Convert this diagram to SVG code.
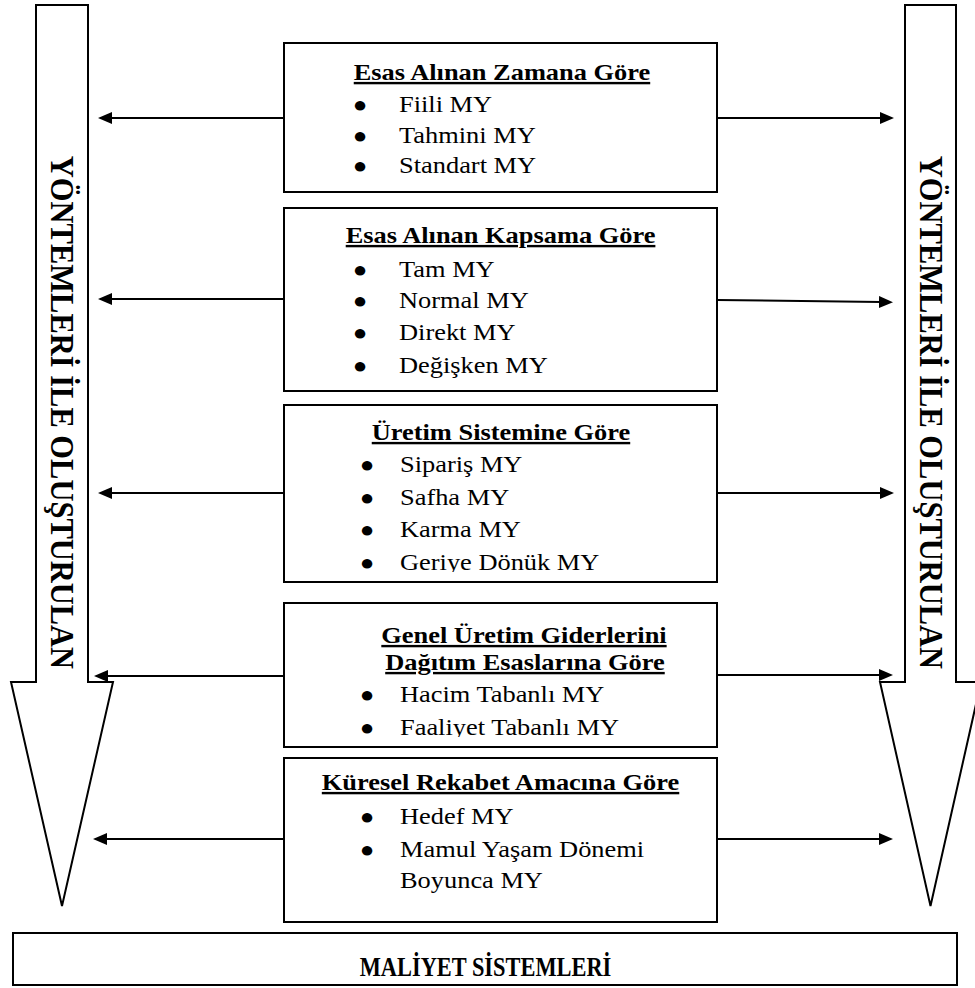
<svg xmlns="http://www.w3.org/2000/svg" width="975" height="988" viewBox="0 0 975 988">
  <style>
    .frame { fill: #ffffff; stroke: #000000; stroke-width: 2; }
    .big-arrow { fill: #ffffff; stroke: #000000; stroke-width: 2; stroke-linejoin: miter; }
    .txt { font-family: "Liberation Serif", "Times New Roman", serif; fill: #000000; font-size: 24px; }
    .title { font-weight: bold; text-decoration: underline; text-anchor: middle; }
    .bullet { text-anchor: middle; font-size: 22px; }
    .vert { font-family: "Liberation Serif", "Times New Roman", serif; font-weight: bold; font-size: 30.5px; text-anchor: middle; fill: #000000; }
    .footer { font-family: "Liberation Serif", "Times New Roman", serif; font-weight: bold; font-size: 28px; text-anchor: middle; fill: #000000; }
    .link { stroke: #000000; stroke-width: 2; fill: none; marker-end: url(#head); }
  </style>
  <defs>
    <marker id="head" markerUnits="userSpaceOnUse" markerWidth="16" markerHeight="14" refX="2" refY="6" orient="auto">
      <path d="M0,0 L14,6 L0,12 z" fill="#000000"/>
    </marker>
    <!-- text boxes cut off the descenders of their last line -->
    <clipPath id="clip3"><rect x="0" y="0" width="1000" height="572"/></clipPath>
    <clipPath id="clip4"><rect x="0" y="0" width="1000" height="737"/></clipPath>
  </defs>

  <!-- left block arrow -->
  <g id="arrow-left">
    <polygon class="big-arrow" points="36,5 88,5 88,682 113,682 62,906 11,682 36,682"/>
    <text class="vert" transform="translate(51 412.5) rotate(90) scale(1 1.1)">YÖNTEMLERİ İLE OLUŞTURULAN</text>
  </g>

  <!-- right block arrow -->
  <g id="arrow-right">
    <polygon class="big-arrow" points="905,5 956,5 956,682 981,682 930.5,906 880,682 905,682"/>
    <text class="vert" transform="translate(919.5 412.5) rotate(90) scale(1 1.1)">YÖNTEMLERİ İLE OLUŞTURULAN</text>
  </g>

  <!-- connectors -->
  <g id="connectors">
    <line class="link" x1="284" y1="118" x2="110" y2="118"/>
    <line class="link" x1="717" y1="118" x2="882" y2="118"/>
    <line class="link" x1="284" y1="299" x2="110" y2="299"/>
    <line class="link" x1="717" y1="300" x2="881" y2="302"/>
    <line class="link" x1="284" y1="493" x2="110" y2="493"/>
    <line class="link" x1="717" y1="493" x2="882" y2="493"/>
    <line class="link" x1="284" y1="676" x2="106" y2="676"/>
    <line class="link" x1="717" y1="675" x2="881" y2="675"/>
    <line class="link" x1="284" y1="839" x2="105" y2="839"/>
    <line class="link" x1="717" y1="839" x2="881" y2="839"/>
  </g>

  <!-- box frames -->
  <g id="box-zaman"><rect class="frame" x="284" y="43" width="433" height="149"/></g>
  <g id="box-kapsam"><rect class="frame" x="284" y="208" width="433" height="183"/></g>
  <g id="box-uretim"><rect class="frame" x="284" y="405" width="433" height="177"/></g>
  <g id="box-gug"><rect class="frame" x="284" y="603" width="433" height="144"/></g>
  <g id="box-rekabet"><rect class="frame" x="284" y="758" width="433" height="164"/></g>
  <g id="box-maliyet">
    <rect class="frame" x="13" y="933" width="944" height="52"/>
    <text class="footer" transform="translate(485.5 976) scale(0.8 1)">MALİYET SİSTEMLERİ</text>
  </g>

  <!-- box texts, set slightly wide around x=500 -->
  <g class="txt" transform="matrix(1.1 0 0 1 -50 0)">
    <g id="text-zaman">
      <text class="title" x="501.8" y="80">Esas Alınan Zamana Göre</text>
      <text class="bullet" x="372.7" y="112">●</text><text x="408.2" y="112">Fiili MY</text>
      <text class="bullet" x="372.7" y="143">●</text><text x="408.2" y="143">Tahmini MY</text>
      <text class="bullet" x="372.7" y="173">●</text><text x="408.2" y="173">Standart MY</text>
    </g>
    <g id="text-kapsam">
      <text class="title" x="500.5" y="243">Esas Alınan Kapsama Göre</text>
      <text class="bullet" x="372.7" y="277">●</text><text x="408.2" y="277">Tam MY</text>
      <text class="bullet" x="372.7" y="308">●</text><text x="408.2" y="308">Normal MY</text>
      <text class="bullet" x="372.7" y="340">●</text><text x="408.2" y="340">Direkt MY</text>
      <text class="bullet" x="372.7" y="373">●</text><text x="408.2" y="373">Değişken MY</text>
    </g>
    <g id="text-uretim">
      <text class="title" x="500.9" y="440">Üretim Sistemine Göre</text>
      <text class="bullet" x="379.1" y="472">●</text><text x="409.1" y="472">Sipariş MY</text>
      <text class="bullet" x="379.1" y="505">●</text><text x="409.1" y="505">Safha MY</text>
      <text class="bullet" x="379.1" y="537">●</text><text x="409.1" y="537">Karma MY</text>
      <g clip-path="url(#clip3)">
        <text class="bullet" x="379.1" y="570">●</text><text x="409.1" y="570">Geriye Dönük MY</text>
      </g>
    </g>
    <g id="text-gug">
      <text class="title" x="521.8" y="643">Genel Üretim Giderlerini</text>
      <text class="title" x="522.7" y="670">Dağıtım Esaslarına Göre</text>
      <text class="bullet" x="379.1" y="702">●</text><text x="409.1" y="702">Hacim Tabanlı MY</text>
      <g clip-path="url(#clip4)">
        <text class="bullet" x="379.1" y="735">●</text><text x="409.1" y="735">Faaliyet Tabanlı MY</text>
      </g>
    </g>
    <g id="text-rekabet">
      <text class="title" x="500.5" y="790">Küresel Rekabet Amacına Göre</text>
      <text class="bullet" x="379.1" y="824">●</text><text x="409.1" y="824">Hedef MY</text>
      <text class="bullet" x="379.1" y="857">●</text><text x="409.1" y="857">Mamul Yaşam Dönemi</text>
      <text x="409.1" y="888">Boyunca MY</text>
    </g>
  </g>
</svg>
